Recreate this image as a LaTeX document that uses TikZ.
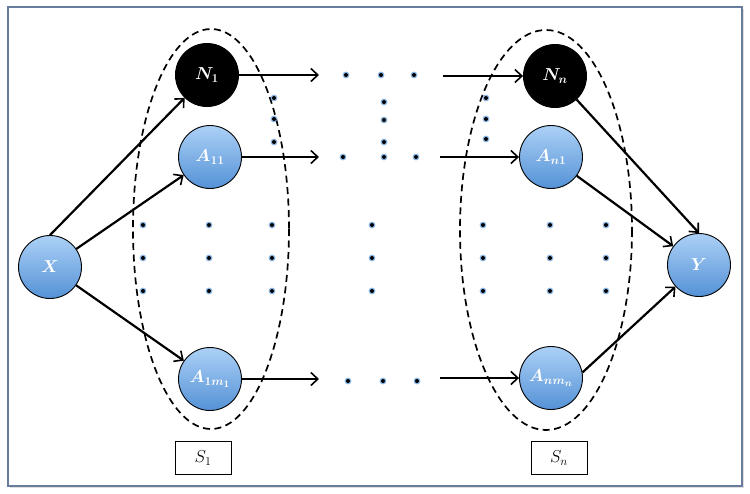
\documentclass[tikz,border=0pt]{standalone}
\usepackage{amsmath,amssymb}
\usepackage{xcolor,tikz}
\usetikzlibrary{calc,positioning,arrows.meta}
\tikzset{>={Straight Barb[length=7pt,width=13pt,line width=1.6pt]}}
\definecolor{nodetop}{RGB}{172,208,246}
\definecolor{nodebot}{RGB}{84,146,214}
\definecolor{framecol}{RGB}{104,124,158}
\definecolor{dotglow}{RGB}{90,150,220}
\tikzset{
  agent/.style={circle,draw=black,line width=0.9pt,minimum size=63pt,inner sep=0pt,
    top color=nodetop,bottom color=nodebot,text=white,font=\boldmath\LARGE},
  blackagent/.style={agent,fill=black,top color=black,bottom color=black},
  flow/.style={->,line width=2.2pt},
  setline/.style={dashed,line width=1.7pt,dash pattern=on 7pt off 4.5pt},
  setbox/.style={draw,line width=0.7pt,minimum width=56pt,minimum height=33pt,font=\LARGE}
}
\newcommand{\glowdot}[1]{%
  \fill[dotglow,opacity=0.7] #1 circle (3.4pt);
  \fill[black] #1 circle (2pt);}

\begin{document}
\begin{tikzpicture}[x=1pt,y=-1pt]
\useasboundingbox (0,0) rectangle (750,493);
\fill[gray!25] (10,9) rectangle (744,488);
\draw[framecol,line width=2pt,fill=white] (8,7) rectangle (742,486);

% the two sets
\draw[setline] (211,229) ellipse (78 and 200);
\draw[setline] (546,230) ellipse (86 and 200);

\node[agent] (x) at (50,267) {$X$};
\node[agent] (y) at (699,265) {$Y$};

\node[blackagent] (n1) at (207,75) {$N_1$};
\node[agent] (a11) at (210,157) {$A_{11}$};
\node[agent] (a1m) at (210,379) {$A_{1m_1}$};

\node[blackagent] (nn) at (555,76) {$N_n$};
\node[agent] (an1) at (551,157) {$A_{n1}$};
\node[agent] (anm) at (551,378) {$A_{nm_n}$};

\node[setbox] (s1) at (203,458) {$S_1$};
\node[setbox] (sn) at (559,458) {$S_n$};

% free ends towards the dots
\coordinate (out1) at (319,75);
\coordinate (out2) at (319,157);
\coordinate (out3) at (319,379);
\coordinate (in1) at (443,76);
\coordinate (in2) at (440,157);
\coordinate (in3) at (440,378);

\draw[flow] (x.north) -- (n1);
\draw[flow] (x) -- (a11);
\draw[flow] (x) -- (a1m);
\draw[flow] (n1) -- (out1);
\draw[flow] (a11) -- (out2);
\draw[flow] (a1m) -- (out3);
\draw[flow] (in1) -- (nn);
\draw[flow] (in2) -- (an1);
\draw[flow] (in3) -- (anm);
\draw[flow] (nn) -- (y.north);
\draw[flow] (an1) -- (y);
\draw[flow] (anm.10) -- (y);

% dots
\foreach \i in {346,381,414} {\glowdot{(\i,75)}};
\foreach \i in {343,384,416} {\glowdot{(\i,157)}};
\foreach \i in {348,383,417} {\glowdot{(\i,381)}};
\foreach \j in {102,120,142} {\glowdot{(384,\j)}};
\foreach \j in {98,119,142} {\glowdot{(274,\j)}};
\foreach \j in {98,119,139} {\glowdot{(486,\j)}};
\foreach \i in {143,209,272,372,483,550,606} {
  \foreach \j in {225,258,291} {
\glowdot{(\i,\j)}
};};
\end{tikzpicture}
\end{document}
